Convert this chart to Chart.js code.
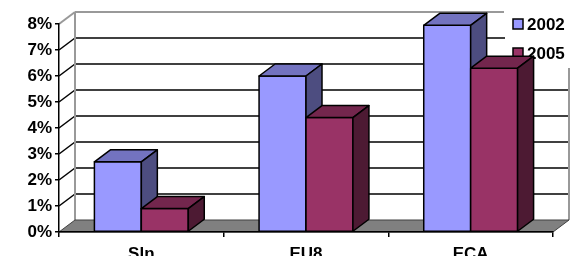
<!DOCTYPE html>
<html>
<head>
<meta charset="utf-8">
<script src="https://cdn.jsdelivr.net/npm/chart.js@4/dist/chart.umd.min.js"></script>
<style>
  html, body { margin: 0; padding: 0; background: #fff; }
  #wrap { width: 573px; height: 256px; }
</style>
</head>
<body>
<div id="wrap"><canvas id="chart" width="573" height="256"></canvas></div>
<script>
// chart data
const categories = ['Sln', 'EU8', 'ECA'];
const seriesNames = ['2002', '2005'];
const values2002 = [2.7, 6.0, 7.95];
const values2005 = [0.9, 4.4, 6.3];
const yTicks = [0, 1, 2, 3, 4, 5, 6, 7, 8];

// 3d look
const DX = 16, DY = 12;
const faces = [
    { front: '#9999FF', top: '#7373C0', side: '#4D4D80' },
    { front: '#993366', top: '#73264D', side: '#4D1A33' }
];
const FAMILY = '"Liberation Sans", Arial, sans-serif';
const FONT = 'bold 17px ' + FAMILY;

function poly(ctx, pts, fill, stroke, lw) {
    ctx.beginPath();
    ctx.moveTo(pts[0][0], pts[0][1]);
    for (let i = 1; i < pts.length; i++) ctx.lineTo(pts[i][0], pts[i][1]);
    ctx.closePath();
    if (fill) { ctx.fillStyle = fill; ctx.fill(); }
    if (stroke) { ctx.strokeStyle = stroke; ctx.lineWidth = lw || 1; ctx.stroke(); }
}

function line(ctx, x1, y1, x2, y2, color, lw) {
    ctx.beginPath();
    ctx.moveTo(x1, y1);
    ctx.lineTo(x2, y2);
    ctx.strokeStyle = color;
    ctx.lineWidth = lw;
    ctx.stroke();
}

// walls, floor and gridlines behind the bars
const wallsPlugin = {
    id: 'walls',
    beforeDraw(chart) {
        const ctx = chart.ctx;
        const a = chart.chartArea;
        const y = chart.scales.y;
        ctx.save();
        ctx.lineCap = 'butt';
        const yTop = y.getPixelForValue(yTicks[yTicks.length - 1]);
        const yBot = y.getPixelForValue(0);
        // back wall gridlines
        yTicks.forEach(v => {
            if (v === 0) return;
            const py = y.getPixelForValue(v);
            const last = v === yTicks[yTicks.length - 1];
            const col = last ? '#999999' : '#000000';
            line(ctx, a.left + DX, py - DY, last ? 504 : a.right + DX, py - DY, col, last ? 2 : 1.5);
            line(ctx, a.left, py, a.left + DX, py - DY, col, last ? 2 : 1.5);
        });
        // back edges of side walls
        line(ctx, a.left + DX, yTop - DY, a.left + DX, yBot - DY, '#999999', 2);
        line(ctx, a.right + DX, yTop - DY, a.right + DX, yBot - DY, '#999999', 2);
        // floor
        poly(ctx, [[a.left, yBot], [a.right, yBot], [a.right + DX, yBot - DY], [a.left + DX, yBot - DY]],
            '#808080', '#404040', 1);
        ctx.restore();
    },
    beforeDatasetsDraw(chart) {
        const ctx = chart.ctx;
        ctx.save();
        // legend box (sits under the bars)
        ctx.fillStyle = '#ffffff';
        ctx.fillRect(505, 0, 68, 68);
        seriesNames.forEach((name, i) => {
            const cy = i === 0 ? 24 : 53;
            ctx.fillStyle = faces[i].front;
            ctx.fillRect(513, cy - 5, 10, 10);
            ctx.strokeStyle = '#000';
            ctx.lineWidth = 1.5;
            ctx.strokeRect(513, cy - 5, 10, 10);
            ctx.fillStyle = '#000';
            ctx.font = FONT;
            ctx.textBaseline = 'middle';
            ctx.textAlign = 'left';
            ctx.fillText(name, 527, cy + 1);
        });
        // 3d columns, front face from the bar element
        ctx.lineJoin = 'round';
        chart.data.datasets.forEach((ds, di) => {
            const meta = chart.getDatasetMeta(di);
            meta.data.forEach(bar => {
                const x0 = bar.x - bar.width / 2;
                const x1 = bar.x + bar.width / 2;
                const yt = bar.y;
                const yb = bar.base;
                const f = faces[di];
                poly(ctx, [[x0, yt], [x1, yt], [x1, yb], [x0, yb]], f.front, '#000', 1.5);
                poly(ctx, [[x0, yt], [x0 + DX, yt - DY], [x1 + DX, yt - DY], [x1, yt]], f.top, '#000', 1.5);
                poly(ctx, [[x1, yt], [x1 + DX, yt - DY], [x1 + DX, yb - DY], [x1, yb]], f.side, '#000', 1.5);
            });
        });
        ctx.restore();
    }
};

const ctx = document.getElementById('chart');
new Chart(ctx, {
    type: 'bar',
    data: {
        labels: categories,
        datasets: [
            { label: seriesNames[0], data: values2002, backgroundColor: 'rgba(0,0,0,0)', borderWidth: 0 },
            { label: seriesNames[1], data: values2005, backgroundColor: 'rgba(0,0,0,0)', borderWidth: 0 }
        ]
    },
    options: {
        responsive: false,
        animation: false,
        devicePixelRatio: 1,
        layout: { padding: { top: 24, right: 20, left: 0, bottom: 0 } },
        categoryPercentage: 0.57,
        barPercentage: 1.0,
        plugins: {
            legend: { display: false },
            tooltip: { enabled: false }
        },
        scales: {
            x: {
                afterFit: (s) => { s.height = 24; },
                grid: { offset: true, drawOnChartArea: false, color: '#000', lineWidth: 1.5, tickLength: 5 },
                border: { color: '#000', width: 1.5 },
                ticks: { color: '#000', font: { family: FAMILY, size: 17, weight: 'bold' }, padding: 7 }
            },
            y: {
                min: 0,
                max: 8,
                afterFit: (s) => { s.width = 59; },
                afterBuildTicks: (s) => { s.ticks = yTicks.map(v => ({ value: v })); },
                grid: { drawOnChartArea: false, color: '#000', lineWidth: 1.5, tickLength: 4 },
                border: { color: '#000', width: 1.5 },
                ticks: {
                    color: '#000',
                    padding: 3,
                    font: { family: FAMILY, size: 17, weight: 'bold' },
                    callback: (v) => v + '%'
                }
            }
        }
    },
    plugins: [wallsPlugin]
});
</script>
</body>
</html>
